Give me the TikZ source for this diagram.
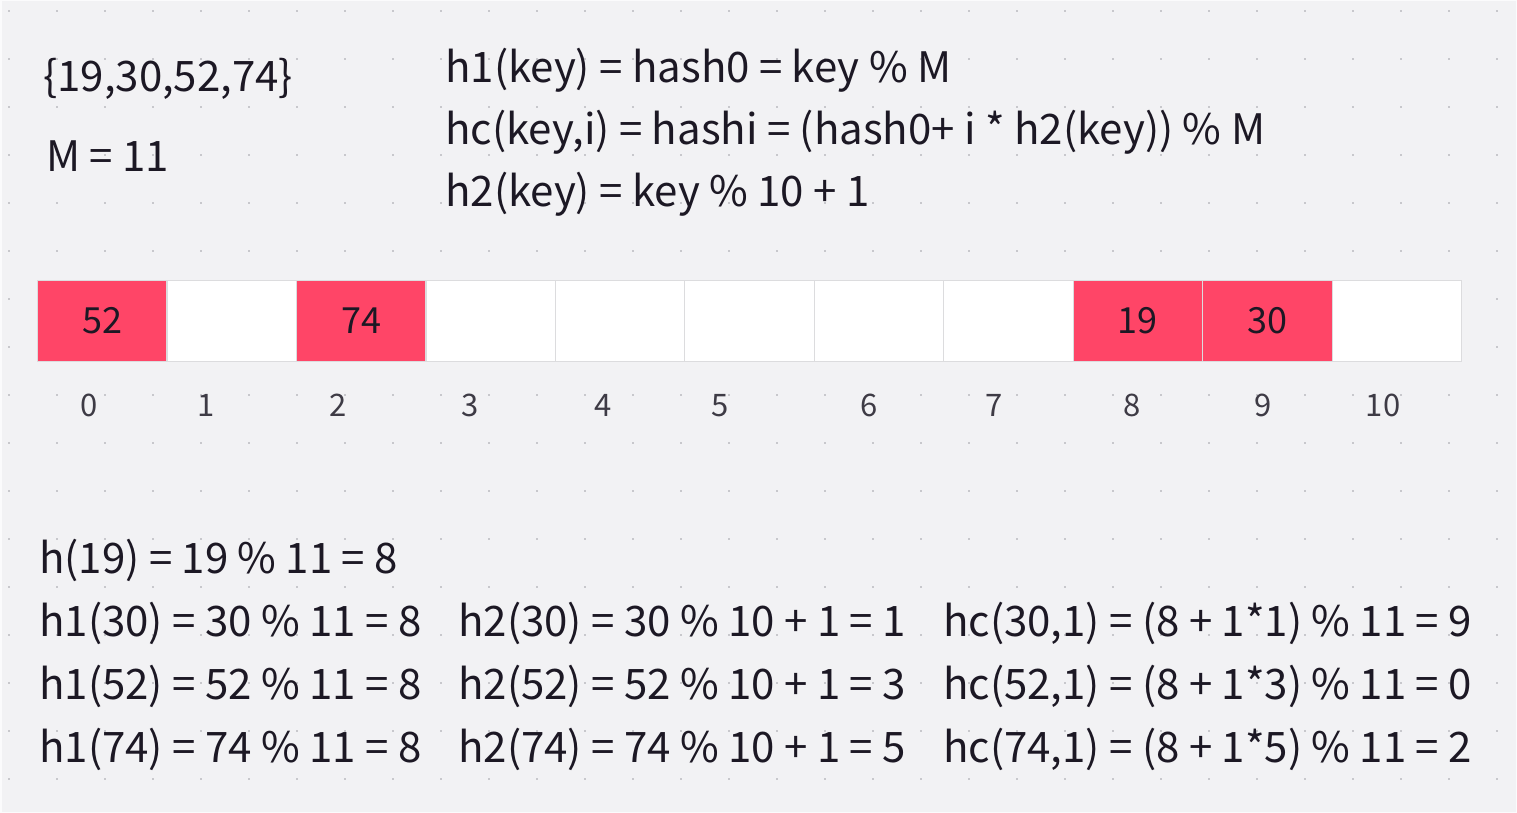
\documentclass[tikz,border=0pt]{standalone}
\usepackage{fontspec}
\setmainfont{Noto Sans CJK SC}
\definecolor{bg}{HTML}{F2F2F4}
\definecolor{dotc}{HTML}{C8C8CC}
\definecolor{cellred}{HTML}{FF4567}
\definecolor{cellline}{HTML}{DCDCDE}
\definecolor{ink}{HTML}{1C1824}
\tikzset{
  txt/.style={anchor=base west, inner sep=0pt, text=ink, font=\fontsize{42}{50}\selectfont},
  btxt/.style={anchor=base west, inner sep=0pt, text=ink, font=\fontsize{42}{50}\selectfont},
  celltxt/.style={anchor=base, inner sep=0pt, text=ink, font=\fontsize{36}{44}\selectfont},
  idx/.style={anchor=base, inner sep=0pt, text=ink!85, font=\fontsize{31}{36}\selectfont},
  cellbox/.style={draw=cellline, line width=1.2pt, fill=white},
  fullbox/.style={draw=cellline, line width=1.2pt, fill=cellred}
}
\begin{document}
\begin{tikzpicture}[x=1pt,y=-1pt]
\fill[bg] (0,0) rectangle (1517,813);
\draw[white!70!bg, line width=1.5pt] (0.75,0.75) rectangle (1516.25,812.25);
\useasboundingbox (0,0) rectangle (1517,813);
\foreach \i in {0,...,31} {
  \foreach \j in {0,...,16} {
    \fill[dotc] ({9+48*\i-1},{11+48*\j-1}) rectangle ++(2.2,2.2);
  }
}
% cells
\foreach \k/\v in {0/52,1/,2/74,3/,4/,5/,6/,7/,8/19,9/30,10/} {
  \pgfmathsetmacro{\xa}{37+129.45*\k}
  \ifx\v\empty
    \node[cellbox, minimum width=129.45pt, minimum height=81pt, anchor=north west, inner sep=0pt] (c\k) at (\xa,280) {};
  \else
    \node[fullbox, minimum width=129.45pt, minimum height=81pt, anchor=north west, inner sep=0pt] (c\k) at (\xa,280) {};
  \fi
}
\foreach \k/\v in {0/52,2/74,8/19,9/30} {
  \node[celltxt] (v\k) at (c\k.center |- 0,333) {\v};
}
% index labels
\foreach \k/\x in {0/89,1/206,2/338,3/470,4/603,5/720,6/869,7/994,8/1132,9/1263,10/1383} {
  \node[idx] (i\k) at (\x,416) {\k};
}
% top texts
\node[txt] (set) at (43,92) {\{19,30,52,74\}};
\node[txt] (m) at (46,172) {M = 11};
\node[txt] (f1) at (445,83) {h1(key) = hash0 = key \% M};
\node[txt] (f2) at (445,145) {hc(key,i) = hashi = (hash0+ i * h2(key)) \% M};
\node[txt] (f3) at (445,207) {h2(key) = key \% 10 + 1};
% bottom
\node[btxt] (b1) at (39,573) {h(19) = 19 \% 11 = 8};
\node[btxt] (b2) at (39,636) {h1(30) = 30 \% 11 = 8};
\node[btxt] (b3) at (39,699) {h1(52) = 52 \% 11 = 8};
\node[btxt] (b4) at (39,762) {h1(74) = 74 \% 11 = 8};
\node[btxt] (c2a) at (458,636) {h2(30) = 30 \% 10 + 1 = 1};
\node[btxt] (c3a) at (458,699) {h2(52) = 52 \% 10 + 1 = 3};
\node[btxt] (c4a) at (458,762) {h2(74) = 74 \% 10 + 1 = 5};
\node[btxt] (d2) at (943,636) {hc(30,1) = (8 + 1*1) \% 11 = 9};
\node[btxt] (d3) at (943,699) {hc(52,1) = (8 + 1*3) \% 11 = 0};
\node[btxt] (d4) at (943,762) {hc(74,1) = (8 + 1*5) \% 11 = 2};
\end{tikzpicture}
\end{document}
